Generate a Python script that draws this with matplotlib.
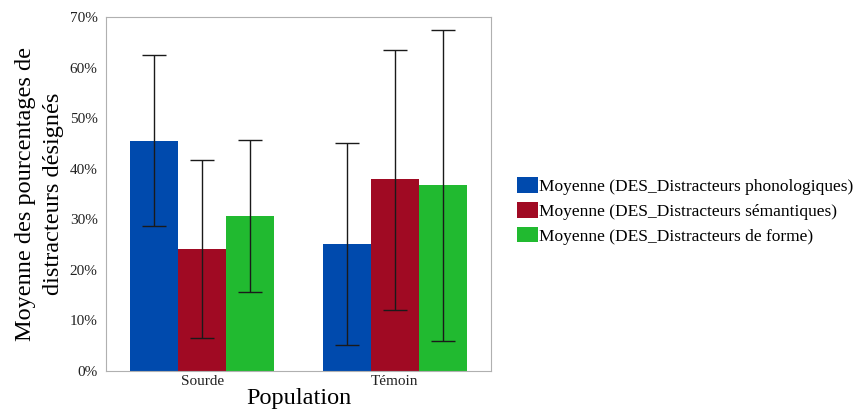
import numpy as np
import matplotlib
matplotlib.use("Agg")
import matplotlib.pyplot as plt
from matplotlib.ticker import PercentFormatter

plt.rcParams['font.family'] = ['Liberation Serif', 'DejaVu Serif']

# donnees (%)
populations = ['Sourde', 'Témoin']
series = ['Moyenne (DES_Distracteurs phonologiques)',
          'Moyenne (DES_Distracteurs sémantiques)',
          'Moyenne (DES_Distracteurs de forme)']
phono = [45.5, 25.2]
seman = [24.2, 37.9]
forme = [30.7, 36.8]
phono_low = [28.6, 5.1]
phono_high = [62.4, 45.0]
seman_low = [6.6, 12.1]
seman_high = [41.7, 63.5]
forme_low = [15.7, 5.9]
forme_high = [45.7, 67.5]

colors = ['#004AAD', '#A00A23', '#21BA30']

fig = plt.figure(figsize=(8.56, 4.12), dpi=100)
ax = fig.add_axes([106 / 856, 1 - 371 / 412, 385 / 856, 354 / 412])

x = np.arange(len(populations))
w = 0.25
means = [phono, seman, forme]
lows = [phono_low, seman_low, forme_low]
highs = [phono_high, seman_high, forme_high]
for i in range(3):
    m = np.array(means[i])
    yerr = [m - np.array(lows[i]), np.array(highs[i]) - m]
    ax.bar(x + (i - 1) * w, m, w, color=colors[i], label=series[i],
           edgecolor='none')
    ax.errorbar(x + (i - 1) * w, m, yerr=yerr, fmt='none', ecolor='#1a1a1a',
                elinewidth=1, capsize=8.3, capthick=1)

ax.set_xlim(-0.5, 1.5)
ax.set_ylim(0, 70)
ax.set_yticks(np.arange(0, 71, 10))
ax.yaxis.set_major_formatter(PercentFormatter(decimals=0))
ax.set_xticks(x)
ax.set_xticklabels(populations)
ax.tick_params(axis='y', length=0, labelsize=11, colors='#222222', pad=6)
ax.tick_params(axis='x', length=0, labelsize=11, colors='#222222', pad=3)
for s in ax.spines.values():
    s.set_color('#b0b0b0')
    s.set_linewidth(0.8)

ax.set_xlabel('Population', fontsize=17.5, labelpad=0)
ax.set_ylabel('Moyenne des pourcentages de\ndistracteurs désignés',
              fontsize=17.5, labelpad=4, linespacing=1.45)

ax.legend(loc='center left', bbox_to_anchor=(510 / 856, 1 - 211 / 412),
          bbox_transform=fig.transFigure, frameon=False, fontsize=12.5,
          handlelength=1.2, handleheight=1.0, handletextpad=0.05,
          labelspacing=0.4, borderaxespad=0)

fig.savefig('out.png', dpi=100)
